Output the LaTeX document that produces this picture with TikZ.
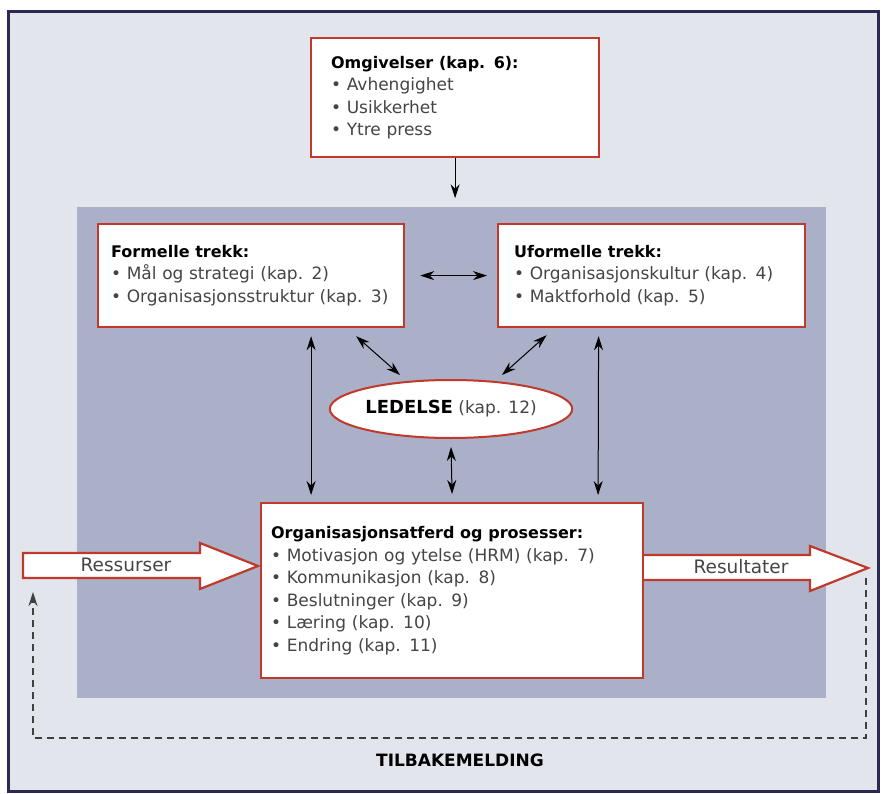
\documentclass[tikz,border=0pt]{standalone}
\usepackage{fontspec}
\setmainfont{DejaVu Sans}
\usetikzlibrary{arrows.meta,shapes}
\definecolor{frame}{HTML}{2B2A55}
\definecolor{paper}{HTML}{E3E5ED}
\definecolor{panel}{HTML}{A9B0C7}
\definecolor{boxred}{HTML}{C0392B}
\definecolor{txt}{HTML}{454545}
\newcommand{\hd}[1]{{\color{black}\bfseries\fontsize{16}{22.5}\selectfont #1}}
\begin{document}
\begin{tikzpicture}[x=1pt,y=-1pt,>={Stealth[length=14pt,width=9pt]},
	box/.style={draw=boxred, line width=2.2, fill=white, anchor=north west, align=left, text=txt, font=\fontsize{17}{22.5}\selectfont},
	link/.style={<->, line width=1},
	bigarrow/.style={draw=boxred, line width=2.2, fill=white, line join=miter},
	every node/.style={text=txt}]
	
	\useasboundingbox (0,0) rectangle (883,794);
	\fill[white] (0,0) rectangle (883,794);
	\draw[fill=paper, draw=frame, line width=3] (8,12) rectangle (878,791);
	\fill[panel] (77,207) rectangle (826,698);
	
	% big arrows
	\draw[bigarrow] (23,553) -- (200,553) -- (200,543) -- (258,566) -- (200,589) -- (200,578) -- (23,578) -- cycle;
	\node[font=\fontsize{18.5}{18.5}\selectfont] (ress) at (126,565) {Ressurser};
	\draw[bigarrow] (642,555) -- (810,555) -- (810,546) -- (868,568) -- (810,591) -- (810,580) -- (642,580);
	\node[font=\fontsize{18.5}{18.5}\selectfont] (resu) at (741,567) {Resultater};
	\coordinate (tip) at (866,578);
	\coordinate (back) at (33,592);
	\draw[->, line width=1.1, dash pattern=on 7 off 5, black!75] (tip) -- (866,738) -- (33,738) -- (back);
	\node[font=\bfseries\fontsize{17}{17}\selectfont, text=black] (tilbake) at (460,760) {TILBAKEMELDING};
	
	% boxes
	\node[box, minimum width=288, minimum height=119, text width=248, inner xsep=20] (omg) at (310,37)
	{\hd{Omgivelser (kap. 6):}\\ \textbullet{} Avhengighet\\ \textbullet{} Usikkerhet\\ \textbullet{} Ytre press};
	\node[box, minimum width=306, minimum height=103, text width=280, inner xsep=13] (formelle) at (97,223)
	{\hd{Formelle trekk:}\\ \textbullet{} Mål og strategi (kap. 2)\\ \textbullet{} Organisasjonsstruktur (kap. 3)};
	\node[box, minimum width=307, minimum height=103, text width=275, inner xsep=16] (uformelle) at (497,223)
	{\hd{Uformelle trekk:}\\ \textbullet{} Organisasjonskultur (kap. 4)\\ \textbullet{} Maktforhold (kap. 5)};
	\node[box, minimum width=382, minimum height=175, text width=362, inner xsep=10] (org) at (260,502)
	{\hd{Organisasjonsatferd og prosesser:}\\ \textbullet{} Motivasjon og ytelse (HRM) (kap. 7)\\ \textbullet{} Kommunikasjon (kap. 8)\\
		\textbullet{} Beslutninger (kap. 9)\\ \textbullet{} Læring (kap. 10)\\ \textbullet{} Endring (kap. 11)};
	\node[draw=boxred, line width=2, fill=white, ellipse, minimum width=230, minimum height=58, inner sep=0, font=\fontsize{17}{17}\selectfont] (ledelse) at (451,409)
	{{\color{black}\bfseries\fontsize{18}{18}\selectfont LEDELSE} (kap. 12)};
	
	% connectors
	\coordinate (omgend) at ([shift={(0,40)}]omg.south);
	\draw[->, line width=1] (omg.south) -- (omgend);
	\draw[link] ([xshift=15]formelle.east) -- ([xshift=-10]uformelle.west);
	\draw[link] ([shift={(60,8)}]formelle.south) -- ([shift={(-141,-7)}]org.north);
	\draw[link] ([shift={(-53,8)}]uformelle.south) -- ([shift={(146,-7)}]org.north);
	\draw[link] ([shift={(105,8)}]formelle.south) -- ([shift={(-51,-34)}]ledelse.center);
	\draw[link] ([shift={(-105,7)}]uformelle.south) -- ([shift={(51,-34)}]ledelse.center);
	\draw[link] ([shift={(0,8)}]ledelse.south) -- ([shift={(0,-8)}]org.north);
\end{tikzpicture}
\end{document}
